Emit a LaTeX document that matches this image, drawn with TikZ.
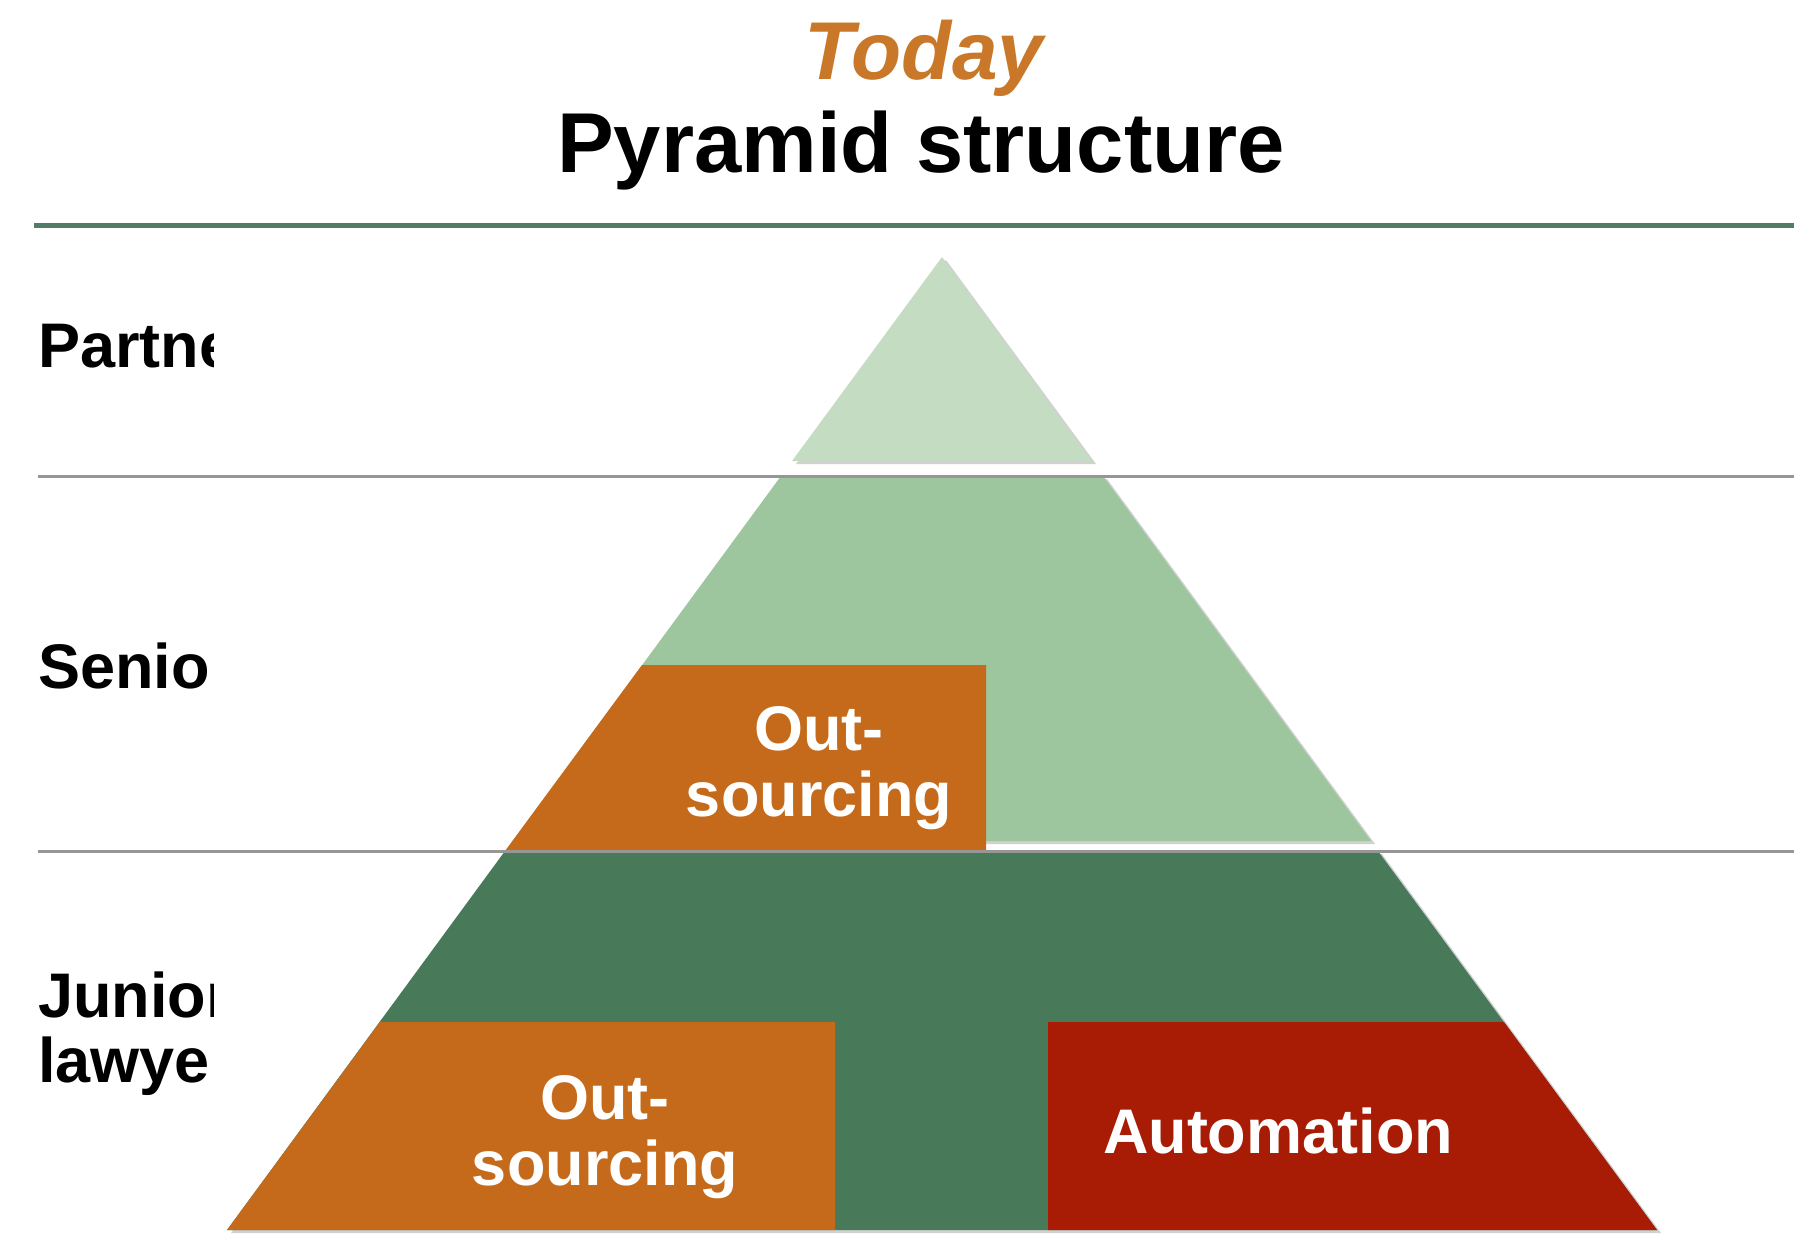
\documentclass[tikz,border=0pt]{standalone}
\usepackage{fontspec}
\setmainfont{Liberation Sans}
\definecolor{lightgreen}{RGB}{196,221,194}
\definecolor{midgreen}{RGB}{157,197,158}
\definecolor{darkgreen}{RGB}{72,122,90}
\definecolor{boxorange}{RGB}{197,106,27}
\definecolor{boxred}{RGB}{168,28,6}
\definecolor{todayorange}{RGB}{200,120,40}
\definecolor{rulegreen}{RGB}{84,122,104}
\definecolor{rulegrey}{RGB}{150,150,150}
\begin{document}
\begin{tikzpicture}[x=0.5pt,y=-0.5pt,
  shade/.style={fill=black,opacity=0.18,shift={(4,3)}},
  lbl/.style={inner sep=0pt,font=\bfseries\fontsize{31.5}{32.5}\selectfont,text=black},
  boxtext/.style={inner sep=0pt,align=center,text=white,font=\bfseries\fontsize{31.5}{33}\selectfont},
  greyrule/.style={draw=rulegrey,line width=1.5pt}]
\useasboundingbox (0,0) rectangle (1794,1236);
\fill[white] (0,0) rectangle (1794,1236);

% titles
\node[anchor=base,inner sep=0pt,font=\bfseries\itshape\fontsize{41}{49}\selectfont,text=todayorange] (today) at (924,80) {Today};
\node[anchor=base,inner sep=0pt,font=\bfseries\fontsize{42.5}{51}\selectfont] (title) at (921,172) {Pyramid structure};

% rules
\coordinate (r0a) at (34,225);  \coordinate (r0b) at (1794,225);
\coordinate (r1a) at (38,476);  \coordinate (r1b) at (1794,476);
\coordinate (r2a) at (38,851);  \coordinate (r2b) at (1794,851);
\draw[rulegreen,line width=2.5pt] (r0a) -- (r0b);

% shadows
\fill[shade] (942,257) -- (1092,461) -- (792,461) -- cycle;
\fill[shade] (781,476) -- (1103,476) -- (1371,841) -- (513,841) -- cycle;
\fill[shade] (505,851) -- (1378,851) -- (1657,1230) -- (227,1230) -- cycle;

% pyramid layers
\fill[lightgreen] (942,257) -- (1092,461) -- (792,461) -- cycle;
\fill[midgreen] (781,476) -- (1103,476) -- (1371,841) -- (513,841) -- cycle;
\fill[boxorange] (642,665) -- (986,665) -- (986,851) -- (505,851) -- cycle;
\fill[darkgreen] (505,851) -- (1378,851) -- (1657,1230) -- (227,1230) -- cycle;
\fill[boxorange] (380,1022) -- (835,1022) -- (835,1230) -- (227,1230) -- cycle;
\fill[boxred] (1048,1022) -- (1504,1022) -- (1657,1230) -- (1048,1230) -- cycle;

% grey rules
\draw[greyrule] (r1a) -- (r1b);
\draw[greyrule] (r2a) -- (r2b);

% box texts
\node[boxtext] (out1) at (819,768) {Out-\\sourcing};
\node[boxtext] (out2) at (605,1137) {Out-\\sourcing};
\node[boxtext,anchor=base] (auto) at (1278,1153) {Automation};

% left labels (clipped)
\begin{scope}
\clip (0,0) rectangle (213,1236);
\node[lbl,anchor=base west] (partners) at (38,367) {Partne};
\node[lbl,anchor=base west] (seniors) at (38,688) {Senio};
\node[lbl,anchor=base west] (juniors) at (38,1017) {Junior};
\node[lbl,anchor=base west] (lawyers) at (38,1082) {lawyer};
\end{scope}
\end{tikzpicture}
\end{document}
